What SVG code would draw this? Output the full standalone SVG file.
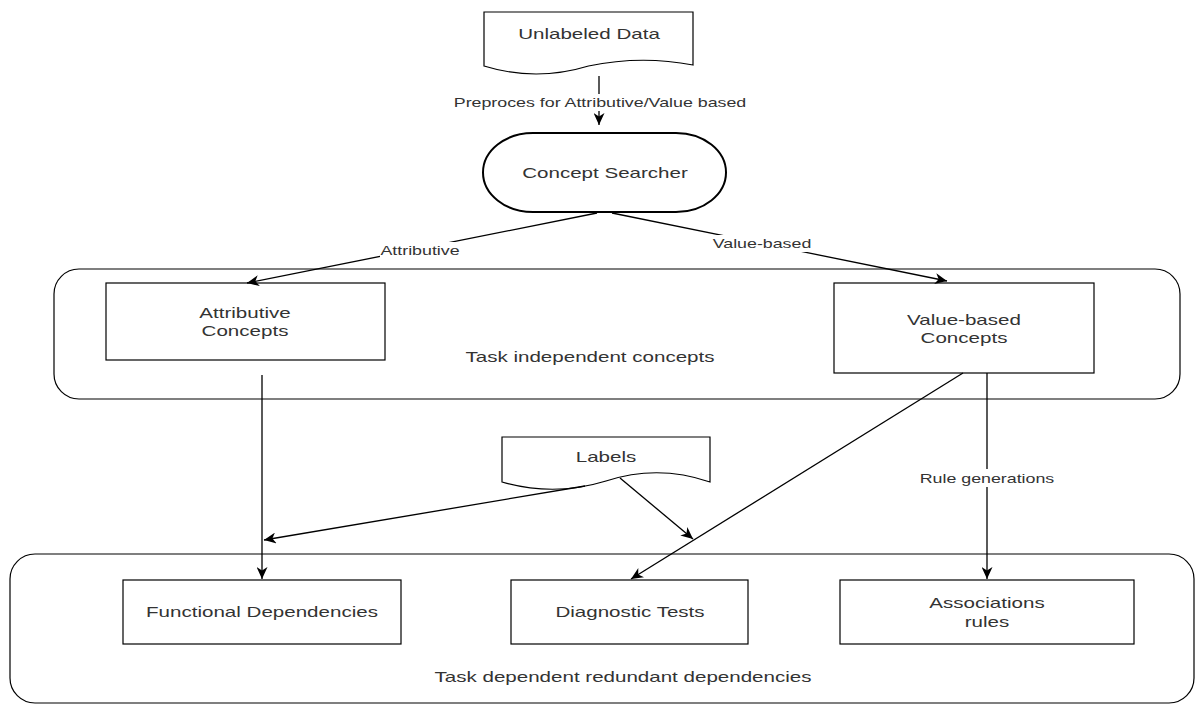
<svg xmlns="http://www.w3.org/2000/svg" width="1198" height="704" viewBox="0 0 1198 704">
<style>
.shape{fill:#fff;stroke:#000;stroke-width:1.2}
.t{font-family:"Liberation Sans",Arial,sans-serif;font-size:15px;fill:#333;text-anchor:middle}
.e{font-family:"Liberation Sans",Arial,sans-serif;font-size:13px;fill:#333;text-anchor:middle}
.edge{fill:none;stroke:#000;stroke-width:1.3}
.lbg{fill:#fff}
</style>
<defs>
<marker id="arr" viewBox="0 0 13 11" refX="12" refY="5.5" markerWidth="13" markerHeight="11" markerUnits="userSpaceOnUse" orient="auto">
<path d="M0,0 L12,5.5 L0,11 L3.5,5.5 z" fill="#000"/>
</marker>
</defs>
<rect width="1198" height="704" fill="#fff"/>

<g id="container-independent">
<rect class="shape" x="54" y="269" width="1126" height="130" rx="25" ry="25"/>
<text class="t" transform="translate(590,362) scale(1.37,1)">Task independent concepts</text>
</g>
<g id="container-dependent">
<rect class="shape" x="10" y="554" width="1184" height="149" rx="25" ry="25"/>
<text class="t" transform="translate(623,682) scale(1.37,1)">Task dependent redundant dependencies</text>
</g>

<g id="unlabeled-data">
<path class="shape" d="M484,12 H693 V65 Q641,55 588.5,66 Q536,82 484,66 Z"/>
<text class="t" transform="translate(589,39) scale(1.37,1)">Unlabeled Data</text>
</g>
<g id="concept-searcher">
<rect x="483" y="133" width="243" height="79" rx="50" ry="39.5" fill="#fff" stroke="#000" stroke-width="2"/>
<text class="t" transform="translate(605,178) scale(1.37,1)">Concept Searcher</text>
</g>
<g id="attributive-concepts">
<rect class="shape" x="106" y="283" width="279" height="77"/>
<text class="t" transform="translate(245,318) scale(1.37,1)">Attributive</text>
<text class="t" transform="translate(245,336) scale(1.37,1)">Concepts</text>
</g>
<g id="value-based-concepts">
<rect class="shape" x="834" y="283" width="260" height="90"/>
<text class="t" transform="translate(964,325) scale(1.37,1)">Value-based</text>
<text class="t" transform="translate(964,343) scale(1.37,1)">Concepts</text>
</g>
<g id="labels">
<path class="shape" d="M502,437 H710 V482 Q658,464 606,481 Q554,497 502,482 Z"/>
<text class="t" transform="translate(606,462) scale(1.37,1)">Labels</text>
</g>
<g id="functional-dependencies">
<rect class="shape" x="123" y="580" width="278" height="64"/>
<text class="t" transform="translate(262,617) scale(1.37,1)">Functional Dependencies</text>
</g>
<g id="diagnostic-tests">
<rect class="shape" x="511" y="580" width="237" height="64"/>
<text class="t" transform="translate(630,617) scale(1.37,1)">Diagnostic Tests</text>
</g>
<g id="associations-rules">
<rect class="shape" x="840" y="580" width="294" height="64"/>
<text class="t" transform="translate(987,608) scale(1.37,1)">Associations</text>
<text class="t" transform="translate(987,627) scale(1.37,1)">rules</text>
</g>

<g id="connectors">
<line class="edge" x1="599" y1="76" x2="599" y2="125" marker-end="url(#arr)"/>
<rect class="lbg" x="452" y="94" width="296" height="17"/>
<text class="e" transform="translate(600,107) scale(1.37,1)">Preproces for Attributive/Value based</text>

<line class="edge" x1="597" y1="213" x2="247" y2="283" marker-end="url(#arr)"/>
<rect class="lbg" x="380" y="242" width="80" height="17"/>
<text class="e" transform="translate(420,255) scale(1.37,1)">Attributive</text>

<line class="edge" x1="612" y1="213" x2="947" y2="281" marker-end="url(#arr)"/>
<rect class="lbg" x="712" y="235" width="100" height="17"/>
<text class="e" transform="translate(762,248) scale(1.37,1)">Value-based</text>

<line class="edge" x1="262" y1="375" x2="262" y2="579" marker-end="url(#arr)"/>
<line class="edge" x1="963" y1="373" x2="631" y2="579" marker-end="url(#arr)"/>
<line class="edge" x1="987" y1="373" x2="987" y2="579" marker-end="url(#arr)"/>
<rect class="lbg" x="918" y="469" width="138" height="18"/>
<text class="e" transform="translate(987,483) scale(1.37,1)">Rule generations</text>

<line class="edge" x1="585" y1="486" x2="264" y2="540" marker-end="url(#arr)"/>
<line class="edge" x1="620" y1="478" x2="693" y2="539" marker-end="url(#arr)"/>
</g>
</svg>
